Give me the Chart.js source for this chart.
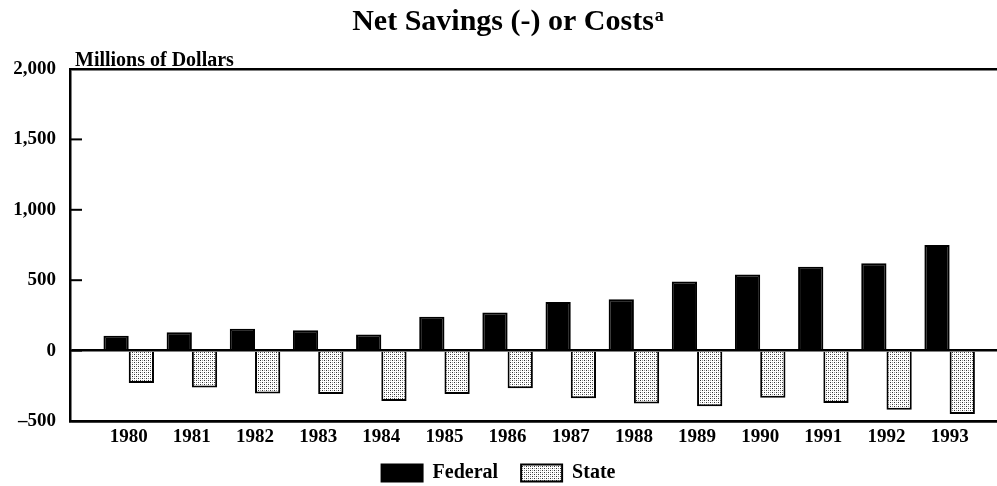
<!DOCTYPE html>
<html>
<head>
<meta charset="utf-8">
<script src="https://cdn.jsdelivr.net/npm/chart.js@4.4.1/dist/chart.umd.min.js"></script>
<style>
  html, body { margin: 0; padding: 0; background: #fff; }
  #wrap { width: 997px; height: 486px; }
</style>
</head>
<body>
<div id="wrap"><canvas id="savingsChart" width="997" height="486"></canvas></div>
<script>
const years = [1980, 1981, 1982, 1983, 1984, 1985, 1986, 1987, 1988, 1989, 1990, 1991, 1992, 1993];
const federal = [105, 130, 155, 145, 115, 240, 270, 345, 365, 490, 540, 595, 620, 750];
const state = [-230, -262, -305, -308, -358, -308, -268, -338, -375, -395, -335, -373, -420, -450];
const yTicks = [-500, 0, 500, 1000, 1500, 2000];

const serif = '"Liberation Serif", "DejaVu Serif", serif';

// stipple pattern for the State bars
function makeDots() {
  const c = document.createElement('canvas');
  c.width = 4; c.height = 4;
  const g = c.getContext('2d');
  g.fillStyle = '#fff';
  g.fillRect(0, 0, 4, 4);
  g.fillStyle = '#333';
  g.fillRect(0, 0, 1, 1);
  g.fillRect(2, 2, 1, 1);
  g.fillStyle = '#999';
  g.fillRect(2, 0, 1, 1);
  g.fillRect(0, 2, 1, 1);
  return g.createPattern(c, 'repeat');
}

// title with superscript, axis caption and inward tick marks
const extras = {
  id: 'extras',
  afterDraw(chart) {
    const ctx = chart.ctx;
    const area = chart.chartArea;
    ctx.save();
    ctx.fillStyle = '#000';
    ctx.textBaseline = 'alphabetic';

    ctx.font = 'bold 30px ' + serif;
    const main = 'Net Savings (-) or Costs';
    const w = ctx.measureText(main).width;
    ctx.font = 'bold 18px ' + serif;
    const sw = ctx.measureText('a').width;
    const x0 = 508 - (w + sw + 1) / 2;
    ctx.font = 'bold 30px ' + serif;
    ctx.fillText(main, x0, 30);
    ctx.font = 'bold 18px ' + serif;
    ctx.fillText('a', x0 + w + 1, 21);

    ctx.font = 'bold 20px ' + serif;
    ctx.fillText('Millions of Dollars', area.left + 5, 66);

    const y = chart.scales.y;
    ctx.strokeStyle = '#000';
    ctx.lineWidth = 2;
    yTicks.forEach(v => {
      const py = y.getPixelForValue(v);
      ctx.beginPath();
      ctx.moveTo(area.left, py);
      ctx.lineTo(area.left + 12, py);
      ctx.stroke();
    });
    ctx.restore();
  }
};

const ctx = document.getElementById('savingsChart').getContext('2d');
new Chart(ctx, {
  type: 'bar',
  data: {
    datasets: [
      {
        label: 'Federal',
        data: years.map((yr, i) => ({ x: yr, y: federal[i] })),
        backgroundColor: '#000',
        borderColor: '#000',
        borderWidth: 2
      },
      {
        label: 'State',
        data: years.map((yr, i) => ({ x: yr, y: state[i] })),
        backgroundColor: makeDots(),
        borderColor: '#000',
        borderWidth: 2
      }
    ]
  },
  options: {
    responsive: false,
    animation: false,
    layout: { padding: { top: 69, right: 0, left: 0, bottom: 0 } },
    datasets: { bar: { categoryPercentage: 0.8, barPercentage: 1.0 } },
    scales: {
      x: {
        type: 'linear',
        offset: false,
        min: 1979.07,
        max: 1993.75,
        afterBuildTicks: scale => { scale.ticks = years.map(v => ({ value: v })); },
        afterFit: scale => { scale.height = 19; },
        grid: { display: true, offset: false, color: 'rgba(0,0,0,0)', drawTicks: false },
        border: { display: true, color: '#000', width: 2.5 },
        ticks: {
          color: '#000',
          // mirrored with negative padding so the labels are not clipped to the short axis box
          mirror: true,
          padding: -27,
          maxRotation: 0,
          autoSkip: false,
          font: { family: serif, size: 19, weight: 'bold' },
          callback: v => String(v)
        }
      },
      y: {
        min: -500,
        max: 2000,
        afterBuildTicks: scale => { scale.ticks = yTicks.map(v => ({ value: v })); },
        afterFit: scale => { scale.width = 70; },
        grid: {
          drawTicks: false,
          lineWidth: 2.5,
          color: c => ([2000, 0, -500].includes(c.tick.value) ? '#000' : 'rgba(0,0,0,0)')
        },
        border: { display: true, color: '#000', width: 2.5 },
        ticks: {
          color: '#000',
          padding: 14,
          font: { family: serif, size: 19, weight: 'bold' },
          callback: v => (v < 0 ? '\u2013' + Math.abs(v) : v.toLocaleString('en-US'))
        }
      }
    },
    plugins: {
      title: { display: false },
      tooltip: { enabled: false },
      legend: {
        position: 'bottom',
        maxHeight: 46,
        labels: {
          color: '#000',
          boxWidth: 41,
          boxHeight: 17,
          padding: 23,
          font: { family: serif, size: 20, weight: 'bold' }
        }
      }
    }
  },
  plugins: [extras]
});
</script>
</body>
</html>
